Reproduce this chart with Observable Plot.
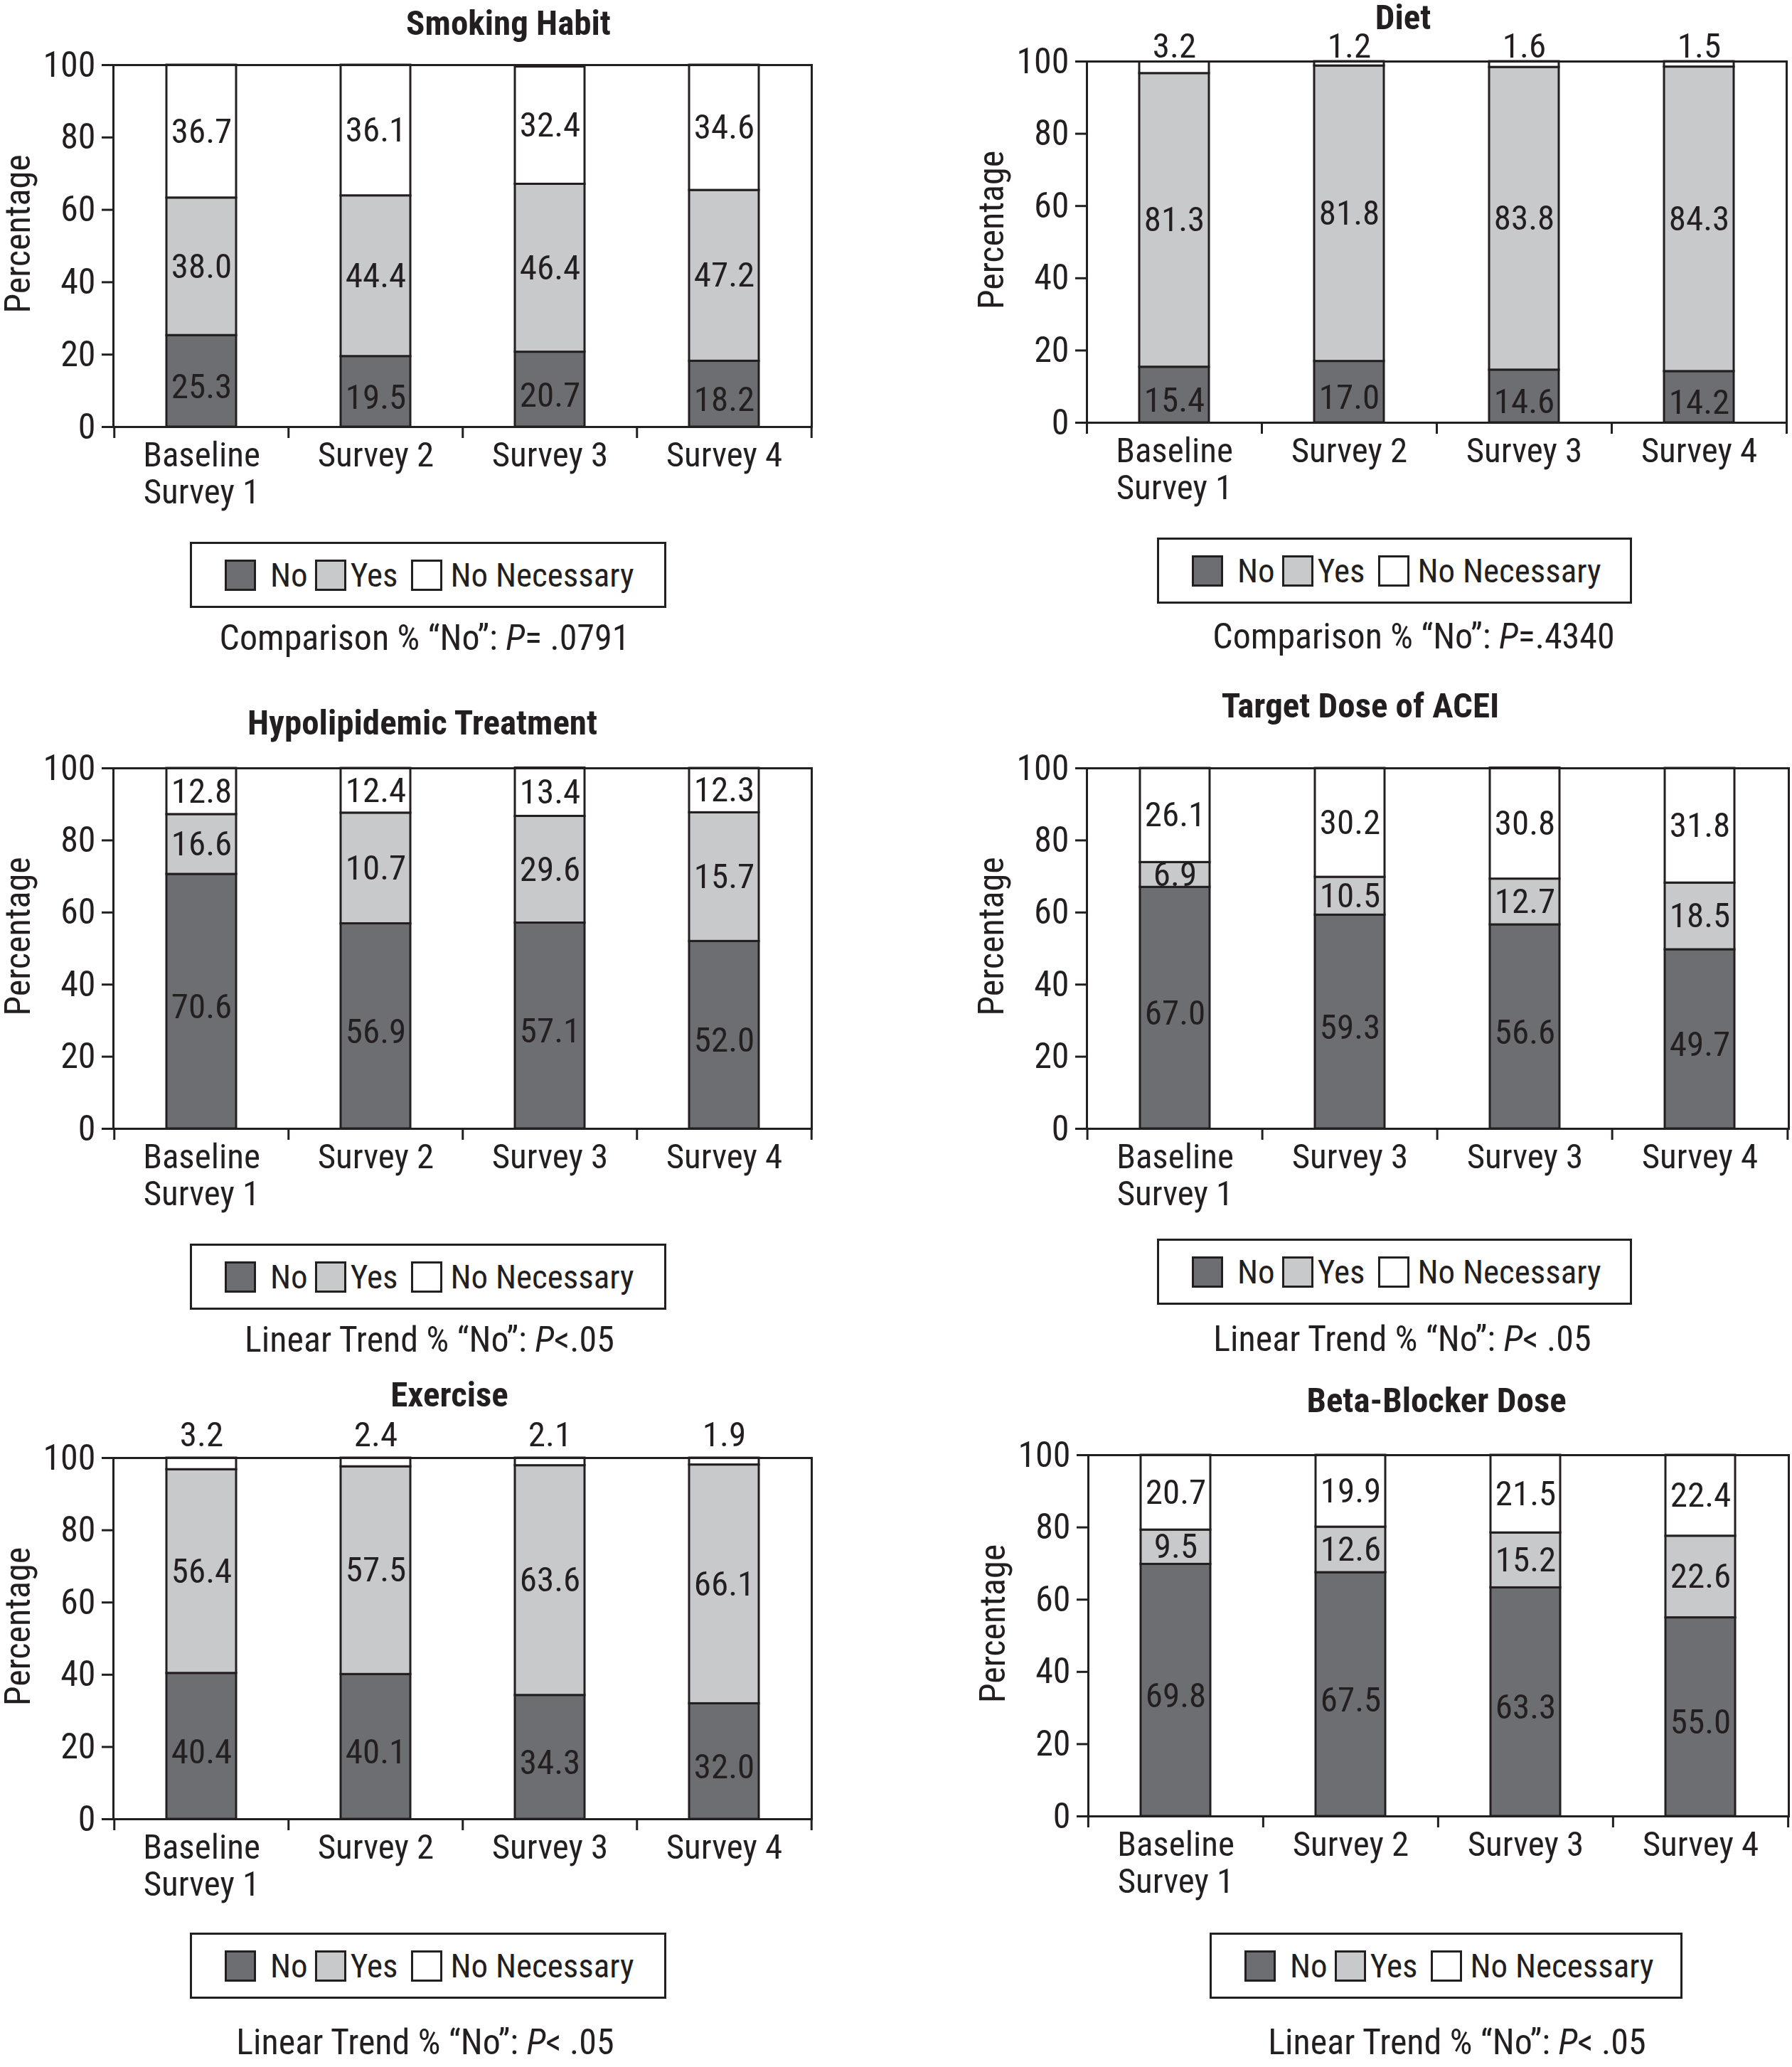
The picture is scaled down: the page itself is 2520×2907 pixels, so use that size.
<!DOCTYPE html>
<html>
<head>
<meta charset="utf-8">
<script src="https://cdn.jsdelivr.net/npm/d3@7"></script>
<script src="https://cdn.jsdelivr.net/npm/@observablehq/plot@0.6"></script>
<style>
  body { margin: 0; background: #fff; width: 2520px; height: 2907px; position: relative; overflow: hidden;
         font-family: "Roboto Condensed", "Roboto", sans-serif; font-stretch: condensed; color: #231f20; }
  .abs { position: absolute; }
  .title { font-weight: bold; font-size: 49px; transform: translate(-50%, -50%); white-space: nowrap; }
  .caption { font-size: 50px; transform: translate(-50%, -50%); white-space: nowrap; }
  .legend { border: 3px solid #231f20; box-sizing: border-box; height: 93px; display: flex; align-items: center;
            font-size: 47px; padding-left: 46px; }
  .sw { width: 44px; height: 44px; border: 3px solid #231f20; box-sizing: border-box; flex: none; }
  .lt { white-space: nowrap; }
</style>
</head>
<body>
<script>
const ink = "#231f20";
const series = ["No", "Yes", "No Necessary"];
const seriesColors = ["#6d6e71", "#c8c9cb", "#ffffff"];

const surveyLabels = ["Baseline\nSurvey 1", "Survey 2", "Survey 3", "Survey 4"];
const aceiLabels = ["Baseline\nSurvey 1", "Survey 3", "Survey 3", "Survey 4"];

const smokingNo = [25.3, 19.5, 20.7, 18.2];
const smokingYes = [38.0, 44.4, 46.4, 47.2];
const smokingNN = [36.7, 36.1, 32.4, 34.6];

const dietNo = [15.4, 17.0, 14.6, 14.2];
const dietYes = [81.3, 81.8, 83.8, 84.3];
const dietNN = [3.2, 1.2, 1.6, 1.5];

// bar heights as drawn; the printed labels for Survey 2 and 4 differ
const hypoNo = [70.6, 56.9, 57.1, 52.0];
const hypoYes = [16.6, 30.7, 29.6, 35.7];
const hypoYesText = ["16.6", "10.7", "29.6", "15.7"];
const hypoNN = [12.8, 12.4, 13.4, 12.3];

const aceiNo = [67.0, 59.3, 56.6, 49.7];
const aceiYes = [6.9, 10.5, 12.7, 18.5];
const aceiNN = [26.1, 30.2, 30.8, 31.8];

const exerciseNo = [40.4, 40.1, 34.3, 32.0];
const exerciseYes = [56.4, 57.5, 63.6, 66.1];
const exerciseNN = [3.2, 2.4, 2.1, 1.9];

const betaNo = [69.8, 67.5, 63.3, 55.0];
const betaYes = [9.5, 12.6, 15.2, 22.6];
const betaNN = [20.7, 19.9, 21.5, 22.4];

const yTicks = [0, 20, 40, 60, 80, 100];

const panels = [
  {title: "Smoking Habit", titleAt: [715, 32], cats: surveyLabels, no: smokingNo, yes: smokingYes, nn: smokingNN,
   frame: [159, 91, 1141, 600], legend: [267, 762, 670], caption: [597, 897], capText: "Comparison % “No”: ", p: "P", capEnd: "= .0791"},
  {title: "Diet", titleAt: [1973, 24], cats: surveyLabels, no: dietNo, yes: dietYes, nn: dietNN, topDy: -6,
   frame: [1528, 86, 2512, 594], legend: [1627, 756, 668], caption: [1988, 895], capText: "Comparison % “No”: ", p: "P", capEnd: "=.4340"},
  {title: "Hypolipidemic Treatment", titleAt: [594, 1016], cats: surveyLabels, no: hypoNo, yes: hypoYes, yesText: hypoYesText, nn: hypoNN,
   frame: [159, 1080, 1141, 1587], legend: [267, 1749, 670], caption: [604, 1884], capText: "Linear Trend % “No”: ", p: "P", capEnd: "<.05"},
  {title: "Target Dose of ACEI", titleAt: [1913, 992], cats: aceiLabels, no: aceiNo, yes: aceiYes, nn: aceiNN,
   frame: [1528, 1080, 2515, 1587], legend: [1627, 1742, 668], caption: [1972, 1883], capText: "Linear Trend % “No”: ", p: "P", capEnd: "< .05"},
  {title: "Exercise", titleAt: [632, 1961], cats: surveyLabels, no: exerciseNo, yes: exerciseYes, nn: exerciseNN, topDy: -17,
   frame: [159, 2050, 1141, 2558], legend: [267, 2718, 670], caption: [598, 2872], capText: "Linear Trend % “No”: ", p: "P", capEnd: "< .05"},
  {title: "Beta-Blocker Dose", titleAt: [2020, 1969], cats: surveyLabels, no: betaNo, yes: betaYes, nn: betaNN,
   frame: [1530, 2046, 2515, 2554], legend: [1701, 2718, 665], caption: [2049, 2872], capText: "Linear Trend % “No”: ", p: "P", capEnd: "< .05"}
];

const FONT = '"Roboto Condensed", "Roboto", sans-serif';

function addDiv(cls, x, y, html) {
  const d = document.createElement("div");
  d.className = "abs " + cls;
  d.style.left = x + "px";
  d.style.top = y + "px";
  d.innerHTML = html;
  document.body.append(d);
  return d;
}

for (const p of panels) {
  const [fl, ft, fr, fb] = p.frame;
  const ml = 160, mr = 8, mt = 80, mb = 130;
  const innerW = fr - fl, innerH = fb - ft;
  const step = innerW / 4;
  const tickLen = 16 / innerH * 100;
  const idx = [0, 1, 2, 3];

  const rows = [];
  idx.forEach(i => {
    rows.push({i, series: "No", value: p.no[i], text: p.no[i].toFixed(1), outside: false});
    rows.push({i, series: "Yes", value: p.yes[i], text: p.yesText ? p.yesText[i] : p.yes[i].toFixed(1), outside: false});
    rows.push({i, series: "No Necessary", value: p.nn[i], text: p.nn[i].toFixed(1), outside: p.topDy != null});
  });

  const chart = Plot.plot({
    width: ml + innerW + mr,
    height: mt + innerH + mb,
    marginLeft: ml, marginRight: mr, marginTop: mt, marginBottom: mb,
    style: {fontFamily: FONT, fontStretch: "condensed", fontSize: "50px", color: ink, background: "transparent", overflow: "visible"},
    x: {type: "band", domain: idx, paddingInner: 0.6, paddingOuter: 0.3, axis: null},
    y: {domain: [0, 100], axis: null},
    color: {domain: series, range: seriesColors},
    marks: [
      Plot.barY(rows, Plot.stackY({x: "i", y: "value", z: "series", order: series, fill: "series", stroke: ink, strokeWidth: 3})),
      Plot.frame({stroke: ink, strokeWidth: 3}),
      Plot.ruleX(idx, {x: d => d, dx: -step / 2, y1: 0, y2: -tickLen, stroke: ink, strokeWidth: 3}),
      Plot.ruleX([3], {x: d => d, dx: step / 2, y1: 0, y2: -tickLen, stroke: ink, strokeWidth: 3}),
      Plot.axisY({ticks: yTicks, tickSize: 16, tickPadding: 9, stroke: ink, strokeWidth: 3, fill: ink, label: null}),
      Plot.text(["Percentage"], {text: d => d, frameAnchor: "left", rotate: -90, textAnchor: "middle", lineAnchor: "top",
                                 dx: -153, dy: -17, fill: ink}),
      Plot.axisX({ticks: idx, tickSize: 0, tickPadding: 19, tickFormat: i => p.cats[i], fill: ink, fontSize: 49,
                  lineHeight: 1.06, label: null}),
      // "No" labels sit a little below the middle of their segment
      Plot.text(rows, Plot.stackY({x: "i", y: "value", z: "series", order: series, dy: 8, fontSize: 49,
                                   text: d => d.series === "No" ? d.text : null, fill: ink})),
      Plot.text(rows, Plot.stackY({x: "i", y: "value", z: "series", order: series, fontSize: 49,
                                   text: d => (d.outside || d.series === "No") ? null : d.text, fill: ink})),
      Plot.text(rows.filter(d => d.outside), {x: "i", frameAnchor: "top", lineAnchor: "bottom", dy: p.topDy || 0,
                                              fontSize: 49, text: "text", fill: ink})
    ]
  });
  chart.style.position = "absolute";
  chart.style.left = (fl - ml) + "px";
  chart.style.top = (ft - mt) + "px";
  document.body.append(chart);

  addDiv("title", p.titleAt[0], p.titleAt[1], p.title);

  const lg = addDiv("legend", p.legend[0], p.legend[1], "");
  lg.style.width = p.legend[2] + "px";
  const gaps = [[20, 10], [6, 19], [11, 0]];
  series.forEach((s, k) => {
    const sw = document.createElement("div");
    sw.className = "sw";
    sw.style.background = seriesColors[k];
    sw.style.marginRight = gaps[k][0] + "px";
    const t = document.createElement("span");
    t.className = "lt";
    t.style.marginRight = gaps[k][1] + "px";
    t.textContent = s;
    lg.append(sw, t);
  });

  addDiv("caption", p.caption[0], p.caption[1], p.capText + "<i>" + p.p + "</i>" + p.capEnd);
}
</script>
</body>
</html>
